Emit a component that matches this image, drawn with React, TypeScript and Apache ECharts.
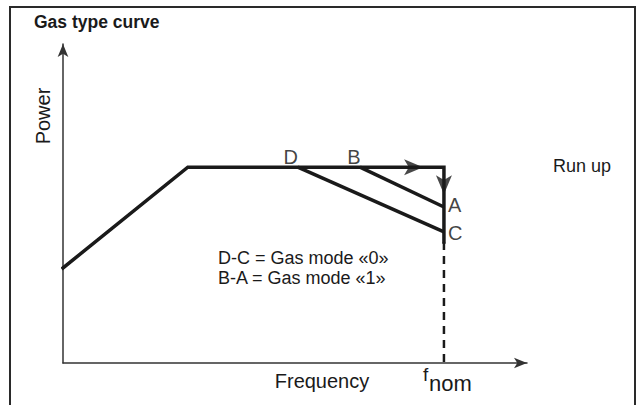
import React, { useEffect, useRef } from "react";
import * as echarts from "echarts";

// Normalised axes: frequency 0..100, power 0..100 (schematic, no ticks)
const curveX = [0, 26.9, 82.1, 82.1];
const curveY = [29.8, 61.4, 61.4, 37.9];

const modeDC_X = [50.6, 82.1];
const modeDC_Y = [61.4, 41.1];

const modeBA_X = [64.0, 82.1];
const modeBA_Y = [61.4, 48.9];

const dashX = [82.1, 82.1];
const dashY = [37.9, 0];

const arrowPts = [
  { x: 77.6, y: 61.4, rotate: -90 },
  { x: 82.1, y: 52.9, rotate: 180 },
];

const pointNames = ["D", "B", "A", "C"];
const pointX = [50.6, 64.0, 82.1, 82.1];
const pointY = [61.4, 61.4, 48.9, 41.1];

const legendLines = ["D-C = Gas mode «0»", "B-A = Gas mode «1»"];

const FONT = "'Liberation Sans', Arial, sans-serif";
const INK = "#1a1a1a";

const zip = (xs: number[], ys: number[]) => xs.map((x, i) => [x, ys[i]]);

export default function App() {
  const ref = useRef<HTMLDivElement>(null);
  useEffect(() => {
    if (!ref.current) return;
    const chart = echarts.init(ref.current, undefined, { renderer: "svg" });
    const labelPos: Record<string, any> = {
      D: { position: "top", distance: 0, offset: [-7, 1] },
      B: { position: "top", distance: 0, offset: [-6, 1] },
      A: { position: "right", distance: 3, offset: [0, -2] },
      C: { position: "right", distance: 3, offset: [0, 1] },
    };
    chart.setOption({
      animation: false,
      backgroundColor: "#ffffff",
      title: {
        text: "Gas type curve",
        left: 29,
        top: 8,
        textStyle: {
          fontFamily: "'Liberation Sans Narrow', 'Liberation Sans', Arial, sans-serif",
          fontWeight: "bold",
          fontSize: 17.5,
          color: INK,
        },
      },
      grid: { left: 63, top: 44, width: 464, height: 319 },
      xAxis: {
        type: "value",
        min: 0,
        max: 100,
        axisLine: {
          show: true,
          symbol: ["none", "arrow"],
          symbolSize: [8, 13],
          lineStyle: { color: "#333", width: 1.5 },
        },
        axisTick: { show: false },
        axisLabel: { show: false },
        splitLine: { show: false },
      },
      yAxis: {
        type: "value",
        min: 0,
        max: 100,
        axisLine: {
          show: true,
          symbol: ["none", "arrow"],
          symbolSize: [8, 13],
          lineStyle: { color: "#333", width: 1.5 },
        },
        axisTick: { show: false },
        axisLabel: { show: false },
        splitLine: { show: false },
      },
      series: [
        {
          type: "line",
          data: zip(curveX, curveY),
          symbol: "none",
          lineStyle: { color: INK, width: 3.5, cap: "square", join: "miter" },
          z: 3,
        },
        {
          type: "line",
          data: zip(modeDC_X, modeDC_Y),
          symbol: "none",
          lineStyle: { color: INK, width: 3.5 },
          z: 3,
        },
        {
          type: "line",
          data: zip(modeBA_X, modeBA_Y),
          symbol: "none",
          lineStyle: { color: INK, width: 3.5 },
          z: 3,
        },
        {
          type: "line",
          data: zip(dashX, dashY),
          symbol: "none",
          lineStyle: { color: INK, width: 2.5, type: [8, 6] },
          z: 3,
        },
        {
          type: "scatter",
          data: arrowPts.map((p) => ({ value: [p.x, p.y], symbolRotate: p.rotate })),
          symbol: "arrow",
          symbolSize: [12, 19],
          itemStyle: { color: INK },
          z: 4,
        },
        {
          type: "scatter",
          data: pointNames.map((n, i) => ({
            value: [pointX[i], pointY[i]],
            name: n,
            label: { show: true, color: "#111", ...labelPos[n] },
          })),
          symbolSize: 2,
          itemStyle: { color: "rgba(0,0,0,0)" },
          label: {
            show: true,
            formatter: (p: any) => p.name,
            fontFamily: FONT,
            fontSize: 20,
            color: "#111",
          },
          z: 5,
        },
      ],
      graphic: [
        {
          type: "rect",
          shape: { x: 10, y: 7, width: 625, height: 420 },
          style: { fill: "none", stroke: "#2a2a2a", lineWidth: 2 },
          silent: true,
        },
        {
          type: "text",
          x: 43,
          y: 116,
          rotation: Math.PI / 2,
          style: {
            text: "Power",
            fontFamily: FONT,
            fontSize: 20,
            fill: INK,
            textAlign: "center",
            textVerticalAlign: "middle",
          },
        },
        {
          type: "text",
          x: 553,
          y: 166,
          style: {
            text: "Run up",
            fontFamily: FONT,
            fontSize: 18,
            fill: INK,
            textAlign: "left",
            textVerticalAlign: "middle",
          },
        },
        ...legendLines.map((t, i) => ({
          type: "text",
          x: 218,
          y: 258 + i * 20,
          style: {
            text: t,
            fontFamily: FONT,
            fontSize: 18,
            fill: INK,
            textAlign: "left",
            textVerticalAlign: "middle",
          },
        })),
        {
          type: "text",
          x: 322,
          y: 381,
          style: {
            text: "Frequency",
            fontFamily: FONT,
            fontSize: 20,
            fill: INK,
            textAlign: "center",
            textVerticalAlign: "middle",
          },
        },
        {
          type: "text",
          x: 423,
          y: 374,
          style: {
            text: "f",
            fontFamily: FONT,
            fontSize: 19,
            fill: INK,
            textAlign: "left",
            textVerticalAlign: "middle",
          },
        },
        {
          type: "text",
          x: 429,
          y: 383,
          style: {
            text: "nom",
            fontFamily: FONT,
            fontSize: 22,
            fill: INK,
            textAlign: "left",
            textVerticalAlign: "middle",
          },
        },
      ],
    });
    return () => chart.dispose();
  }, []);
  return (
    <div
      ref={ref}
      style={{ position: "fixed", left: 0, top: 0, width: 637, height: 405, background: "#fff" }}
    />
  );
}
